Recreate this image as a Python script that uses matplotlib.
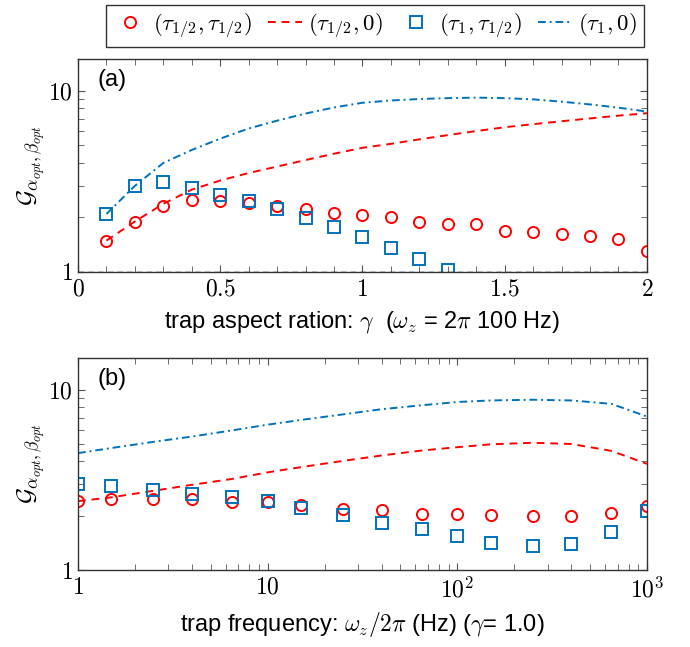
import numpy as np
import matplotlib.pyplot as plt
from matplotlib.ticker import FixedLocator, NullFormatter, LogLocator

plt.rcParams['mathtext.fontset'] = 'cm'
plt.rcParams['font.family'] = ['Liberation Sans', 'DejaVu Sans']

RED = '#ff0000'
BLUE = '#0072bd'

# panel (a): trap aspect ratio gamma
gamma = [0.1, 0.2, 0.3, 0.4, 0.5, 0.6, 0.7, 0.8, 0.9, 1.0,
         1.1, 1.2, 1.3, 1.4, 1.5, 1.6, 1.7, 1.8, 1.9, 2.0]
a_half_half = [1.49, 1.90, 2.30, 2.50, 2.47, 2.40, 2.32, 2.23, 2.11, 2.07,
               2.00, 1.90, 1.83, 1.83, 1.69, 1.66, 1.62, 1.59, 1.53, 1.31]
a_half_zero = [1.49, 1.90, 2.38, 2.85, 3.20, 3.52, 3.82, 4.15, 4.50, 4.85,
               5.10, 5.40, 5.70, 6.00, 6.30, 6.55, 6.80, 7.05, 7.30, 7.53]
gamma_sq = [0.1, 0.2, 0.3, 0.4, 0.5, 0.6, 0.7, 0.8, 0.9, 1.0, 1.1, 1.2, 1.3]
a_one_half = [2.09, 2.99, 3.13, 2.90, 2.65, 2.48, 2.22, 1.99, 1.77, 1.56,
              1.35, 1.18, 1.03]
a_one_zero = [2.09, 2.99, 4.00, 4.72, 5.45, 6.20, 6.85, 7.50, 8.10, 8.60,
              8.85, 9.02, 9.12, 9.18, 9.12, 8.98, 8.72, 8.42, 8.08, 7.69]

# panel (b): trap frequency omega_z / 2pi in Hz
freq = [1, 1.5, 2.5, 4, 6.5, 10, 15, 25, 40, 65, 100, 150, 250, 400, 650, 1000]
b_half_half = [2.41, 2.47, 2.47, 2.47, 2.38, 2.37, 2.29, 2.19, 2.14, 2.04,
               2.04, 2.03, 1.99, 2.00, 2.07, 2.26]
b_half_zero = [2.41, 2.53, 2.75, 2.97, 3.20, 3.48, 3.72, 4.03, 4.32, 4.60,
               4.80, 4.98, 5.08, 5.00, 4.58, 3.88]
b_one_half = [3.01, 2.92, 2.79, 2.65, 2.54, 2.41, 2.22, 2.01, 1.83, 1.68,
              1.54, 1.42, 1.36, 1.40, 1.63, 2.13]
b_one_zero = [4.45, 4.75, 5.14, 5.50, 5.95, 6.40, 6.80, 7.30, 7.80, 8.20,
              8.55, 8.72, 8.80, 8.72, 8.35, 7.10]

labels = [r'$(\tau_{1/2},\tau_{1/2})$', r'$(\tau_{1/2},0)$',
          r'$(\tau_1,\tau_{1/2})$', r'$(\tau_1,0)$']

fig = plt.figure(figsize=(6.9, 6.47), dpi=100)
ax1 = fig.add_axes([0.113, 0.5796, 0.8246, 0.3292])
ax2 = fig.add_axes([0.113, 0.119, 0.8246, 0.3277])

mk = dict(linestyle='none', markersize=8, markeredgewidth=1.4,
          markerfacecolor='none')


def style(ax):
    ax.set_yscale('log')
    ax.set_ylim(1, 15)
    ax.yaxis.set_major_locator(FixedLocator([1, 10]))
    ax.yaxis.set_minor_locator(LogLocator(base=10, subs=np.arange(2, 10)))
    ax.yaxis.set_minor_formatter(NullFormatter())
    ax.set_yticklabels([r'$1$', r'$10$'])
    ax.tick_params(which='both', direction='in', top=True, right=True,
                   labelsize=17, color='#555555')
    ax.tick_params(which='major', length=5, width=0.8)
    ax.tick_params(which='minor', length=4, width=0.6)
    ax.tick_params(axis='x', pad=5)
    for s in ax.spines.values():
        s.set_color('#333333')
        s.set_linewidth(1.0)
    ax.set_ylabel(r'$\mathcal{G}_{\alpha_{opt},\beta_{opt}}$', fontsize=18,
                  labelpad=1)


# panel (a)
h1, = ax1.plot(gamma, a_half_half, marker='o', color=RED, **mk)
h2, = ax1.plot(gamma, a_half_zero, '--', color=RED, lw=1.4, dashes=(4, 3))
h3, = ax1.plot(gamma_sq, a_one_half, marker='s', color=BLUE, **mk)
h4, = ax1.plot(gamma, a_one_zero, '-.', color=BLUE, lw=1.4,
               dashes=(4, 2, 1, 2))
ax1.axhline(1, color='k', ls='--', lw=1.0, dashes=(4, 3))
ax1.set_xlim(0, 2)
style(ax1)
ax1.set_xticks([0, 0.5, 1, 1.5, 2])
ax1.set_xticklabels([r'$0$', r'$0.5$', r'$1$', r'$1.5$', r'$2$'])
ax1.xaxis.set_minor_locator(FixedLocator(np.arange(0, 2.01, 0.1)))
ax1.set_xlabel(r'trap aspect ration: $\gamma$  ($\omega_z$ = 2$\pi$ 100 Hz)',
               fontsize=17, labelpad=6)
ax1.text(0.035, 0.9, '(a)', transform=ax1.transAxes, fontsize=17,
         va='center')

# panel (b)
ax2.plot(freq, b_half_half, marker='o', color=RED, **mk)
ax2.plot(freq, b_half_zero, '--', color=RED, lw=1.4, dashes=(4, 3))
ax2.plot(freq, b_one_half, marker='s', color=BLUE, **mk)
ax2.plot(freq, b_one_zero, '-.', color=BLUE, lw=1.4, dashes=(4, 2, 1, 2))
ax2.set_xscale('log')
ax2.set_xlim(1, 1000)
style(ax2)
ax2.set_xticks([1, 10, 100, 1000])
ax2.set_xticklabels([r'$1$', r'$10$', r'$10^2$', r'$10^3$'])
ax2.xaxis.set_minor_locator(LogLocator(base=10, subs=np.arange(2, 10)))
ax2.xaxis.set_minor_formatter(NullFormatter())
ax2.set_xlabel(r'trap frequency: $\omega_z/2\pi$ (Hz) ($\gamma$= 1.0)',
               fontsize=17, labelpad=6)
ax2.text(0.035, 0.9, '(b)', transform=ax2.transAxes, fontsize=17,
         va='center')

fig.legend([h1, h2, h3, h4], labels, loc='upper center', ncol=4,
           bbox_to_anchor=(0.543, 1.0), fontsize=16.5, frameon=True,
           fancybox=False, edgecolor='black', handlelength=1.5,
           handletextpad=0.25, columnspacing=0.7, borderpad=0.3,
           borderaxespad=0.2)
fig.legends[0].get_frame().set_linewidth(1.0)

fig.savefig('out.png', dpi=100)
